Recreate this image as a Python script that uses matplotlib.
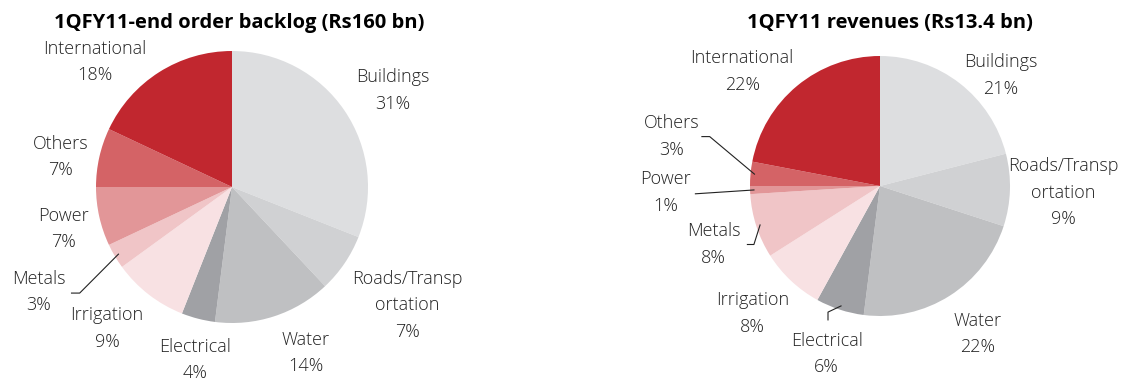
import numpy as np
import matplotlib
matplotlib.use("Agg")
from matplotlib import pyplot as plt

plt.rcParams['font.family'] = ['Open Sans', 'DejaVu Sans']

categories = ["Buildings", "Roads/Transp\nortation", "Water", "Electrical", "Irrigation",
              "Metals", "Power", "Others", "International"]
backlog_share = [31, 7, 14, 4, 9, 3, 7, 7, 18]
revenue_share = [21, 9, 22, 6, 8, 8, 1, 3, 22]
backlog_title = "1QFY11-end order backlog (Rs160 bn)"
revenue_title = "1QFY11 revenues (Rs13.4 bn)"

colors = ["#DDDEE0", "#D0D1D3", "#BFC0C2", "#A0A1A5", "#F8E1E3",
          "#F0C5C7", "#E29698", "#D46366", "#C1272F"]

W, H = 1141, 381
fig = plt.figure(figsize=(W / 100, H / 100), dpi=100)
ax = fig.add_axes([0, 0, 1, 1])
ax.set_xlim(0, W)
ax.set_ylim(0, H)
ax.set_aspect('equal')
ax.axis('off')

FS = 13


def draw_pie(values, center, radius, title, title_xy, label_pos, leaders):
    cx, cy = center
    wedges, _ = ax.pie(values, colors=colors, startangle=90, counterclock=False,
                       center=(cx, cy), radius=radius, frame=True,
                       wedgeprops=dict(linewidth=0))
    ax.text(title_xy[0], title_xy[1], title, ha='center', va='center',
            fontsize=14.5, fontweight='bold', color='black')
    for i, (name, v) in enumerate(zip(categories, values)):
        u, w = label_pos[i]
        ax.text(cx + u * radius, cy + w * radius, f"{name}\n{v}%", ha='center', va='center',
                fontsize=FS, color='#222222', linespacing=1.6, fontweight='light')
    # leader lines, last point at the wedge edge
    for i, path in leaders.items():
        wd = wedges[i]
        mid = np.deg2rad((wd.theta1 + wd.theta2) / 2)
        edge = (cx + 0.97 * radius * np.cos(mid), cy + 0.97 * radius * np.sin(mid))
        xs = [cx + p[0] * radius for p in path] + [edge[0]]
        ys = [cy + p[1] * radius for p in path] + [edge[1]]
        ax.plot(xs, ys, color='#222222', lw=0.8)


# left: order backlog
left_labels = [(1.18, 0.71), (1.29, -0.87), (0.54, -1.22), (-0.27, -1.27), (-0.92, -1.04),
               (-1.42, -0.77), (-1.24, -0.31), (-1.26, 0.22), (-1.01, 0.92)]
draw_pie(backlog_share, (232, H - 187), 136, backlog_title, (239, H - 23),
         left_labels, {5: [(-1.18, -0.78), (-1.12, -0.78)]})

# right: revenues
right_labels = [(0.93, 0.85), (1.41, -0.05), (0.75, -1.14), (-0.41, -1.29), (-0.98, -0.98),
                (-1.28, -0.45), (-1.65, -0.05), (-1.60, 0.38), (-1.06, 0.88)]
draw_pie(revenue_share, (880, H - 186), 130, revenue_title, (890, H - 23),
         right_labels, {3: [(-0.40, -1.03), (-0.40, -0.97)],
                        5: [(-1.02, -0.45), (-0.97, -0.45)],
                        6: [(-1.42, -0.06)],
                        7: [(-1.37, 0.38), (-1.31, 0.38)]})

ax.set_xlim(0, W)
ax.set_ylim(0, H)
fig.savefig("out.png", dpi=100, facecolor='white')
